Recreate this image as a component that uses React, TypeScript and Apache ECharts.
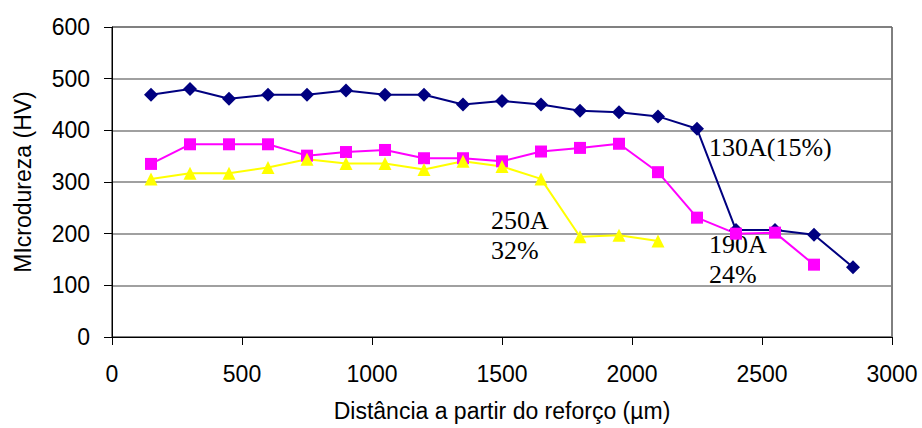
import React, { useEffect, useRef } from "react";
import * as echarts from "echarts";

const distances = [150, 300, 450, 600, 750, 900, 1050, 1200, 1350, 1500, 1650, 1800, 1950, 2100, 2250, 2400, 2550, 2700, 2850];
const hv130 = [469, 480, 461, 469, 469, 477, 469, 469, 450, 457, 450, 438, 435, 427, 403, 207, 207, 198, 135];
const hv190 = [335, 373, 373, 373, 351, 358, 362, 346, 346, 340, 359, 366, 374, 319, 231, 200, 202, 140];
const hv250 = [306, 317, 317, 328, 344, 336, 336, 324, 340, 330, 306, 194, 197, 186];

const pairs = (vals: number[]) => vals.map((v, i) => [distances[i], v]);

export default function App() {
  const ref = useRef<HTMLDivElement>(null);
  useEffect(() => {
    if (!ref.current) return;
    const chart = echarts.init(ref.current, null, { renderer: "svg" });
    const serif = "'Liberation Serif', 'DejaVu Serif', serif";
    const sans = "'Liberation Sans', Arial, sans-serif";
    chart.setOption({
      animation: false,
      backgroundColor: "#ffffff",
      grid: {
        left: 112,
        right: 30,
        top: 27,
        bottom: 91,
        show: true,
        borderColor: "#000000",
        borderWidth: 1,
        backgroundColor: "transparent",
        containLabel: false,
      },
      xAxis: {
        type: "value",
        min: 0,
        max: 3000,
        interval: 500,
        name: "Distância a partir do reforço (µm)",
        nameLocation: "middle",
        nameGap: 62,
        nameTextStyle: { fontFamily: sans, fontSize: 23, color: "#000" },
        axisLine: { show: true, onZero: false, lineStyle: { color: "#000", width: 1 } },
        axisTick: { show: true, inside: false, length: 8, lineStyle: { color: "#000" } },
        axisLabel: { fontFamily: sans, fontSize: 23, color: "#000", margin: 25, formatter: (v: number) => String(v) },
        splitLine: { show: false },
      },
      yAxis: {
        type: "value",
        min: 0,
        max: 600,
        interval: 100,
        name: "MIcrodureza (HV)",
        nameLocation: "middle",
        nameGap: 78,
        nameTextStyle: { fontFamily: sans, fontSize: 23, color: "#000" },
        axisLine: { show: true, lineStyle: { color: "#000", width: 1 } },
        axisTick: { show: true, inside: false, length: 8, lineStyle: { color: "#000" } },
        axisLabel: { fontFamily: sans, fontSize: 23, color: "#000", margin: 22 },
        splitLine: { show: true, lineStyle: { color: "#808080", width: 1.5 } },
      },
      series: [
        {
          name: "130A(15%)",
          type: "line",
          data: pairs(hv130),
          symbol: "diamond",
          symbolSize: 14,
          itemStyle: { color: "#000080" },
          lineStyle: { color: "#000080", width: 2 },
        },
        {
          name: "190A 24%",
          type: "line",
          data: pairs(hv190),
          symbol: "rect",
          symbolSize: 12,
          itemStyle: { color: "#FF00FF" },
          lineStyle: { color: "#FF00FF", width: 2 },
        },
        {
          name: "250A 32%",
          type: "line",
          data: pairs(hv250),
          symbol: "triangle",
          symbolSize: 13,
          itemStyle: { color: "#FFFF00" },
          lineStyle: { color: "#FFFF00", width: 2 },
        },
      ],
      graphic: [
        { type: "text", left: 709, top: 134, style: { text: "130A(15%)", font: `26px ${serif}`, fill: "#000" } },
        { type: "text", left: 491, top: 207, style: { text: "250A", font: `26px ${serif}`, fill: "#000" } },
        { type: "text", left: 491, top: 237, style: { text: "32%", font: `26px ${serif}`, fill: "#000" } },
        { type: "text", left: 709, top: 231, style: { text: "190A", font: `26px ${serif}`, fill: "#000" } },
        { type: "text", left: 709, top: 261, style: { text: "24%", font: `26px ${serif}`, fill: "#000" } },
      ],
    });
    return () => chart.dispose();
  }, []);
  return (
    <div style={{ position: "fixed", left: 0, top: 0, width: 922, height: 428, overflow: "hidden", background: "#fff" }}>
      <div ref={ref} style={{ width: 922, height: 428 }} />
    </div>
  );
}
